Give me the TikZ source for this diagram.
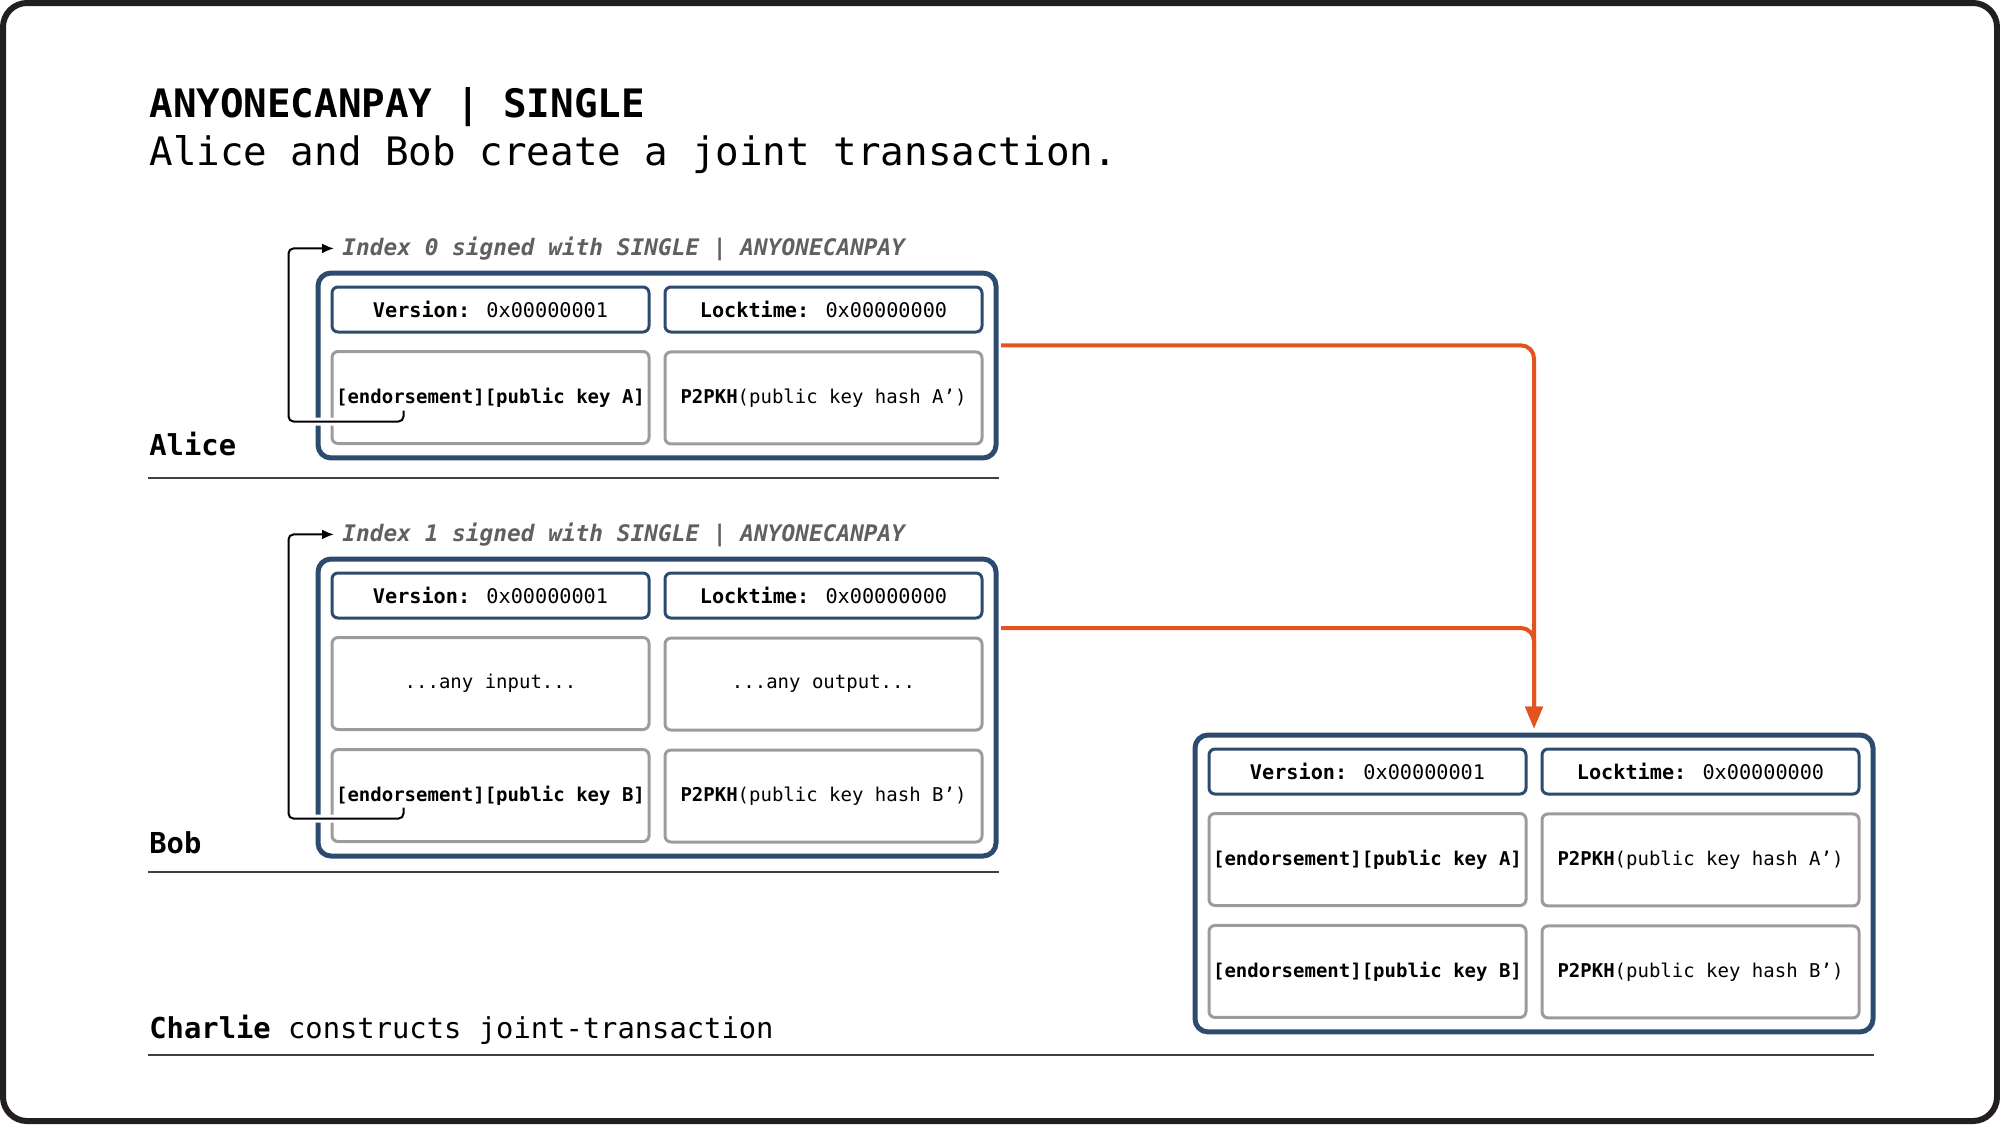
\documentclass[tikz,border=0pt]{standalone}
\usepackage{fontspec}
\setmainfont{DejaVu Sans Mono}
\usepackage{xcolor}
\usetikzlibrary{matrix, calc, positioning, arrows.meta}
\definecolor{txblue}{HTML}{2D4B6F}
\definecolor{cellgray}{HTML}{9C9C9C}
\definecolor{flow}{HTML}{E2531F}
\definecolor{idxgray}{HTML}{606060}
\definecolor{framecol}{HTML}{231F20}
\tikzset{
tx/.style={
  matrix of nodes,
  draw=txblue,
  line width=2.5pt,
  rounded corners=6.5pt,
  inner sep=6.25pt,
  column sep=6.5pt,
  row sep=8.25pt,
  nodes={draw=cellgray, line width=1.5pt, rounded corners=3pt, text=black,
         minimum width=158.5pt, minimum height=46pt, inner sep=0pt,
         font=\fontsize{9.5}{11}\selectfont}
},
row 1/.style={nodes={draw=txblue, minimum height=22.5pt, font=\fontsize{10.1}{12}\selectfont}},
plain/.style={inner sep=0pt, anchor=base west},
headline/.style={plain, font=\fontsize{19.6}{24}\selectfont},
who/.style={plain, font=\fontsize{14.4}{17}\selectfont},
idx/.style={plain, text=idxgray, font=\fontsize{11.4}{14}\selectfont\bfseries\itshape},
rule/.style={draw=black!75, line width=1pt},
sig/.style={draw=black, line width=1pt, rounded corners=2.5pt,
  -{Latex[length=6pt,width=5pt]}, preaction={draw=white, line width=4pt, -}},
flowline/.style={draw=flow, line width=2pt, rounded corners=6.5pt,
  -{Triangle[length=11pt,width=8.5pt]}, shorten >=2pt, shorten <=1.25pt},
}

\begin{document}
\begin{tikzpicture}[x=0.5pt, y=-0.5pt]
\useasboundingbox (0,0) rectangle (2000,1124);
\draw[draw=framecol, line width=3pt, rounded corners=12pt] (3,3) rectangle (1997,1121);

\node[headline] (title) at (149,117) {\textbf{ANYONECANPAY | SINGLE}};
\node[headline] (subtitle) at (149,165) {Alice and Bob create a joint transaction.};

\matrix (alice) [tx, anchor=north west] at (315.5,270.5) {
  \textbf{Version:} 0x00000001 & \textbf{Locktime:} 0x00000000 \\
  \textbf{[endorsement][public key A]} & \textbf{P2PKH}(public key hash A') \\
};
\matrix (bob) [tx, anchor=north west] at (315.5,556.5) {
  \textbf{Version:} 0x00000001 & \textbf{Locktime:} 0x00000000 \\
  ...any input... & ...any output... \\
  \textbf{[endorsement][public key B]} & \textbf{P2PKH}(public key hash B') \\
};
\matrix (charlie) [tx, anchor=north west] at (1192.5,732.5) {
  \textbf{Version:} 0x00000001 & \textbf{Locktime:} 0x00000000 \\
  \textbf{[endorsement][public key A]} & \textbf{P2PKH}(public key hash A') \\
  \textbf{[endorsement][public key B]} & \textbf{P2PKH}(public key hash B') \\
};

\node[who] (alicelbl) at (149,455) {\textbf{Alice}};
\node[who] (boblbl) at (149,853) {\textbf{Bob}};
\node[who] (charlielbl) at (149,1038) {\textbf{Charlie} constructs joint-transaction};
\draw[rule] (148,478) -- (999,478);
\draw[rule] (148,872) -- (999,872);
\draw[rule] (148,1055) -- (1874,1055);

\node[idx] (idx0) at (342,255) {Index 0 signed with SINGLE | ANYONECANPAY};
\node[idx] (idx1) at (342,541) {Index 1 signed with SINGLE | ANYONECANPAY};

\coordinate (tickA) at ($(alice-2-1.center)+(-87,13)$);
\coordinate (bendA) at ($(alice.west)+(-27,0)$);
\coordinate (tickB) at ($(bob-3-1.center)+(-87,12)$);
\coordinate (bendB) at ($(bob.west)+(-27,0)$);
\draw[sig] (tickA) -- ++(0,11) -| (bendA |- idx0.west) -- ([xshift=-4pt]idx0.west);
\draw[sig] (tickB) -- ++(0,11) -| (bendB |- idx1.west) -- ([xshift=-4pt]idx1.west);

\coordinate (gapA) at ($(alice-1-2.south)!.7!(alice-2-2.north)$);
\coordinate (gapB) at ($(bob-1-2.south)!.5!(bob-2-2.north)$);
\draw[flowline] (alice.east |- gapA) -| (charlie.north);
\draw[flowline] (bob.east |- gapB) -| (charlie.north);
\end{tikzpicture}
\end{document}
